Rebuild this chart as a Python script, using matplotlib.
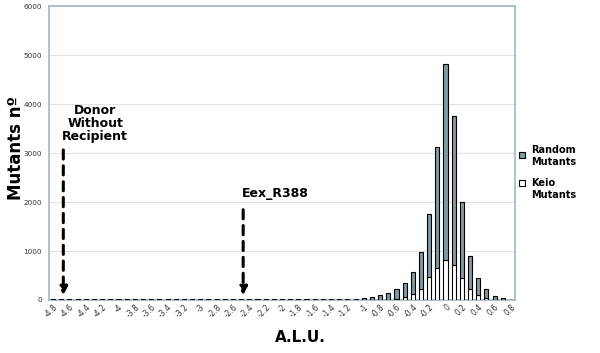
import numpy as np
import matplotlib
matplotlib.use("Agg")
import matplotlib.pyplot as plt

# categories: A.L.U. from -4.8 to 0.8 step 0.1
alu = [round(-4.8 + 0.1 * i, 1) for i in range(57)]

# total heights
total = [12, 14, 12, 14, 12, 12, 14, 12, 12, 12,
         14, 12, 12, 14, 12, 14, 12, 12, 14, 14,
         12, 14, 14, 12, 14, 14, 14, 16, 16, 18,
         18, 20, 20, 22, 24, 26, 30, 27, 41, 68,
         102, 137, 230, 340, 565, 973, 1755, 3129, 4809, 3762,
         1993, 905, 456, 224, 88, 34, 10]
keio = [0] * 41 + [5, 20, 60, 120, 220, 463, 647, 816, 708,
                   455, 231, 102, 40, 10, 2, 0]
random_mut = [t - k for t, k in zip(total, keio)]

fig = plt.figure(figsize=(6, 3.53), dpi=100)
ax = fig.add_axes([49 / 600, 1 - 300 / 353, 466 / 600, 294 / 353])

x = np.arange(len(alu))
w = 0.5
ax.bar(x, keio, width=w, color="white", edgecolor="black", linewidth=0.8, zorder=3)
ax.bar(x, random_mut, width=w, bottom=keio, color="#7d9ba1", edgecolor="black",
       linewidth=0.8, zorder=3)

ax.set_xlim(-0.5, len(alu) - 0.5)
ax.set_ylim(0, 6000)
ax.set_yticks(range(0, 6001, 1000))
ax.tick_params(axis="y", labelsize=5.2, length=0, labelcolor="#333333", pad=5)
ax.yaxis.grid(True, color="#e2e2e2", linewidth=0.8, zorder=0)
ax.set_axisbelow(True)

def fmt(v):
    return "%g" % v

ticks = x[::2]
ax.set_xticks(ticks)
ax.set_xticklabels([fmt(alu[i]) for i in ticks], rotation=45, ha="right",
                   va="top", rotation_mode="anchor", fontsize=5.5, color="#333333")
ax.tick_params(axis="x", length=0, pad=2)

for s in ax.spines.values():
    s.set_color("#a3b8bd")
    s.set_linewidth(1.2)

fig.text(16 / 600, 1 - 148 / 353, "Mutants nº", fontsize=12, fontweight="bold",
         rotation=90, ha="center", va="center")
fig.text(300 / 600, 1 - 337 / 353, "A.L.U.", fontsize=11, fontweight="bold",
         ha="center", va="center")

# annotations
def arrow(xc, ytop):
    ax.annotate("", xy=(xc, 40), xytext=(xc, ytop),
                arrowprops=dict(arrowstyle="-|>", color="black", lw=2.2,
                                linestyle=(0, (3, 2.2)), mutation_scale=12),
                zorder=5)

i_donor = alu.index(-4.6) - 0.75
i_eex = alu.index(-2.4) - 0.75
arrow(i_donor, 3120)
arrow(i_eex, 1900)
ax.text(i_donor + 3.9, 3600, "Donor\nWithout\nRecipient", ha="center", va="center",
        fontsize=9, fontweight="bold", linespacing=1.0)
ax.text(i_eex - 0.1, 2180, "Eex_R388", ha="left", va="center", fontsize=9,
        fontweight="bold")

# legend
fig.patches.append(plt.Rectangle((519 / 600, 1 - 158 / 353), 6 / 600, 6 / 353,
                                 transform=fig.transFigure, facecolor="#7d9ba1",
                                 edgecolor="black", linewidth=0.8))
fig.patches.append(plt.Rectangle((519 / 600, 1 - 186 / 353), 6 / 600, 6 / 353,
                                 transform=fig.transFigure, facecolor="white",
                                 edgecolor="black", linewidth=0.8))
fig.text(531 / 600, 1 - 156 / 353, "Random\nMutants", fontsize=7, fontweight="bold",
         va="center", ha="left", linespacing=1.2)
fig.text(531 / 600, 1 - 189 / 353, "Keio\nMutants", fontsize=7, fontweight="bold",
         va="center", ha="left", linespacing=1.2)

fig.savefig("out.png", dpi=100)
